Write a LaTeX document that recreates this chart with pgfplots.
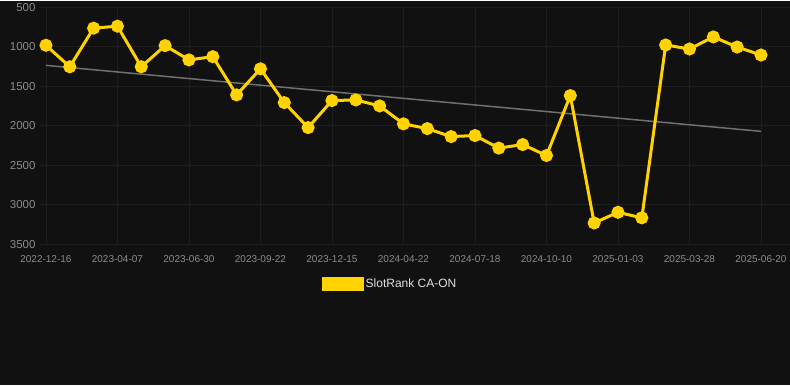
\documentclass[border=0pt]{standalone}
\usepackage{pgfplots}
\pgfplotsset{compat=1.18}
\usepackage{fontspec}
\setmainfont{Liberation Sans}
\definecolor{bg}{HTML}{111111}
\definecolor{gridc}{HTML}{1E1E1E}
\definecolor{ylw}{HTML}{FFD200}
\definecolor{tickc}{HTML}{8C8C8C}
\definecolor{trend}{HTML}{707070}
\definecolor{legtext}{HTML}{E0E0E0}
\begin{document}
\begin{tikzpicture}
\fill[bg] (0pt,0pt) rectangle (790pt,384pt);
\begin{axis}[
  at={(40pt,141pt)}, anchor=south west,
  width=750pt, height=237pt, scale only axis,
  xmin=-0.25, xmax=31.2, ymin=500, ymax=3500, y dir=reverse,
  xtick={0,3,...,30},
  xticklabels={2022-12-16,2023-04-07,2023-06-30,2023-09-22,2023-12-15,2024-04-22,2024-07-18,2024-10-10,2025-01-03,2025-03-28,2025-06-20},
  ytick={500,1000,...,3500},
  /pgf/number format/set thousands separator={},
  /pgf/number format/assume math mode=true,
  grid=major, major grid style={draw=gridc, line width=0.8pt},
  axis line style={draw=none}, tick style={draw=none},
  xticklabel style={font=\fontsize{10}{12}\selectfont, text=tickc, yshift=-8pt},
  yticklabel style={font=\fontsize{11.5}{12}\selectfont, text=tickc, xshift=-1pt},
  legend style={at={(0.467,-0.169)}, anchor=center, draw=none, fill=none,
    text=legtext, font=\fontsize{12}{14}\selectfont},
  legend image code/.code={\fill[ylw] (0pt,-5.5pt) rectangle (39pt,5.5pt);},
  clip=false,
]
\addplot[trend, line width=1.5pt, forget plot] coordinates {(0,1234) (30,2070)};
\addplot[ylw, line width=3pt, mark=*, mark size=5pt, mark options={fill=ylw, draw=ylw}] coordinates {
(0,980) (1,1252) (2,763) (3,738) (4,1252) (5,984) (6,1165) (7,1124) (8,1608) (9,1278)
(10,1706) (11,2022) (12,1680) (13,1672) (14,1748) (15,1975) (16,2035) (17,2136) (18,2123) (19,2282)
(20,2237) (21,2376) (22,1617) (23,3230) (24,3095) (25,3165) (26,976) (27,1027) (28,874) (29,1002)
(30,1103)};
\addlegendentry{SlotRank CA-ON}
\end{axis}
\useasboundingbox (0pt,0pt) rectangle (790pt,384pt);
\end{tikzpicture}
\end{document}
